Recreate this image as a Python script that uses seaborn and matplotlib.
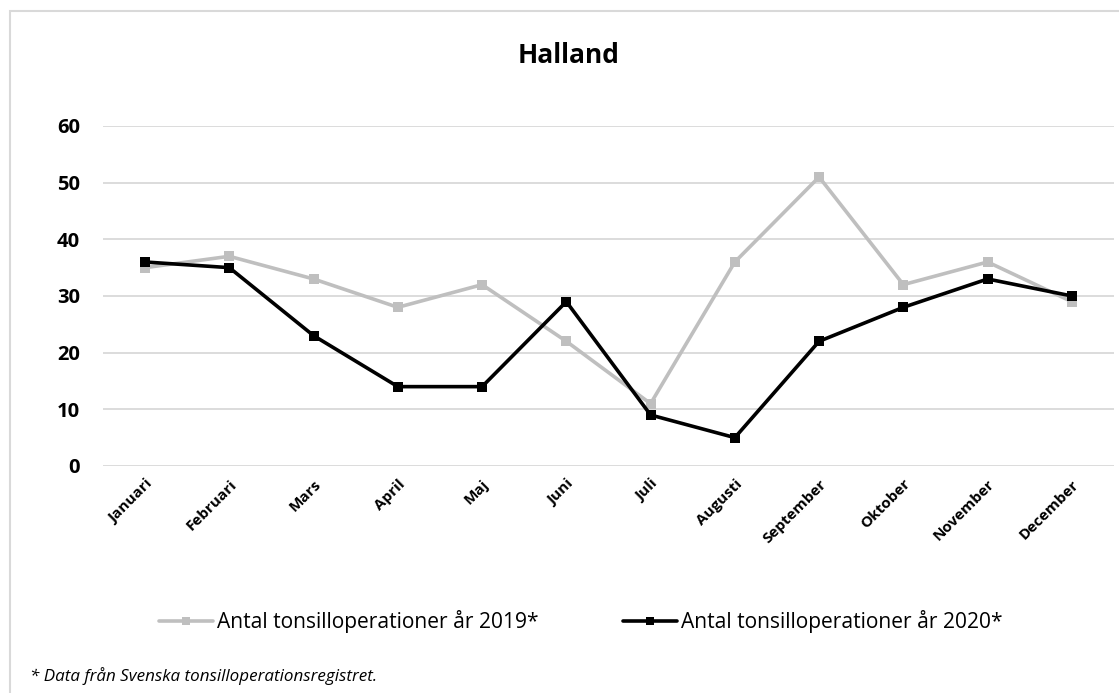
import pandas as pd
import numpy as np
import seaborn as sns
import matplotlib.pyplot as plt
from matplotlib.patches import Rectangle

# data
months = ['Januari', 'Februari', 'Mars', 'April', 'Maj', 'Juni', 'Juli',
          'Augusti', 'September', 'Oktober', 'November', 'December']
ops_2019 = [35, 37, 33, 28, 32, 22, 11, 36, 51, 32, 36, 29]
ops_2020 = [36, 35, 23, 14, 14, 29, 9, 5, 22, 28, 33, 30]
label_2019 = 'Antal tonsilloperationer år 2019*'
label_2020 = 'Antal tonsilloperationer år 2020*'
yticks = [0, 10, 20, 30, 40, 50, 60]

df = pd.DataFrame({
    'month': months * 2,
    'count': ops_2019 + ops_2020,
    'series': [label_2019] * 12 + [label_2020] * 12,
})

sns.set_theme(style="white")
plt.rcParams['font.family'] = ['Open Sans', 'DejaVu Sans']
plt.rcParams['text.color'] = 'black'
plt.rcParams['xtick.color'] = 'black'
plt.rcParams['ytick.color'] = 'black'

fig = plt.figure(figsize=(11.19, 6.93), dpi=100)
ax = fig.add_axes([0.092, 0.3276, 0.9035, 0.4906])
renderer = fig.canvas.get_renderer()


def fit_width(txt, target_px):
    # scale a text's font size so it spans target_px pixels
    w = txt.get_window_extent(renderer).width
    txt.set_fontsize(txt.get_fontsize() * target_px / w)
    return txt.get_fontsize()


sns.lineplot(data=df, x='month', y='count', hue='series', sort=False,
             palette={label_2019: '#BFBFBF', label_2020: '#000000'},
             marker='s', markersize=7, markeredgewidth=0, linewidth=2.6,
             ax=ax, legend=False)

ax.set_xlim(-0.5, 11.5)
ax.set_ylim(0, 60)
ax.set_yticks(yticks)
ax.set_yticklabels([str(t) for t in yticks], fontsize=14.5, fontweight='bold')
ax.set_xticks(range(len(months)))
ax.set_xticklabels(months, rotation=45, ha='right', rotation_mode='anchor',
                   fontsize=11, fontweight='bold')
ax.tick_params(axis='y', length=0, pad=16.5)
ax.tick_params(axis='x', length=0, pad=8)
ax.grid(axis='y', color='#D9D9D9', linewidth=1.3)
ax.set_axisbelow(True)
for s in ax.spines.values():
    s.set_visible(False)
ax.set_xlabel('')
ax.set_ylabel('')

fig.text(0.508, 0.92, 'Halland', ha='center', va='center',
         fontsize=19, fontweight='bold')

# legend: size the font so each label is ~321 px wide like the original
probe = fig.text(0, 0, label_2019, fontsize=13)
leg_fs = fit_width(probe, 321)
probe.remove()
px = leg_fs * 100 / 72

handles = [
    plt.Line2D([], [], color='#BFBFBF', lw=2.6, marker='s', markersize=6, markeredgewidth=0),
    plt.Line2D([], [], color='#000000', lw=2.6, marker='s', markersize=6, markeredgewidth=0),
]
fig.legend(handles, [label_2019, label_2020], loc='center', bbox_to_anchor=(0.519, 0.1025),
           ncol=2, frameon=False, fontsize=leg_fs, handlelength=54 / px,
           handletextpad=4 / px, columnspacing=85 / px, borderaxespad=0, borderpad=0,
           bbox_transform=fig.transFigure)

foot = fig.text(0.027, 0.0245, '* Data från Svenska tonsilloperationsregistret.',
                ha='left', va='center', fontsize=10.5, style='italic')
fit_width(foot, 347)

# outer chart border
fig.patches.append(Rectangle((0.009, -0.05), 1.5, 1.034, transform=fig.transFigure,
                             fill=False, edgecolor='#D9D9D9', linewidth=1.5))

fig.savefig('out.png', dpi=100)
